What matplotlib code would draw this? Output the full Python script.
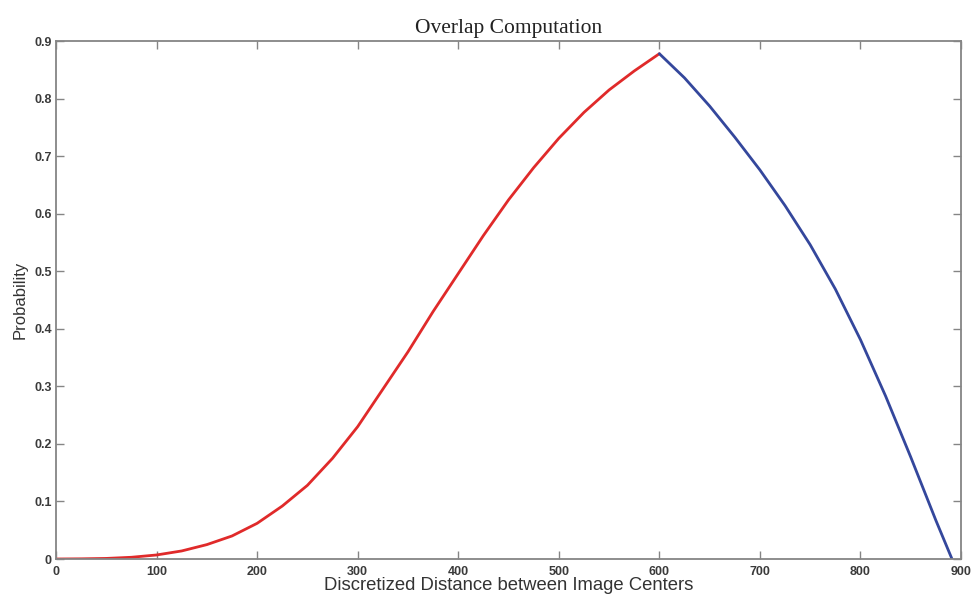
import matplotlib
matplotlib.use("Agg")
import matplotlib.pyplot as plt
import numpy as np

# overlap probability vs. distance between image centres
dist_rise = [0, 25, 50, 75, 100, 125, 150, 175, 200, 225, 250, 275, 300,
             325, 350, 375, 400, 425, 450, 475, 500, 525, 550, 575, 600]
prob_rise = [0.0, 0.0003, 0.001, 0.003, 0.007, 0.014, 0.025, 0.040, 0.062,
             0.092, 0.128, 0.175, 0.230, 0.295, 0.360, 0.430, 0.496, 0.562,
             0.624, 0.680, 0.731, 0.776, 0.815, 0.848, 0.878]

dist_fall = [600, 625, 650, 675, 700, 725, 750, 775, 800, 825, 850, 875, 891]
prob_fall = [0.878, 0.836, 0.787, 0.733, 0.676, 0.614, 0.546, 0.469, 0.381,
             0.283, 0.177, 0.067, 0.0]

xticks = np.arange(0, 901, 100)
yticks = np.arange(0, 0.91, 0.1)
ytick_labels = ["0"] + [f"{v:.1f}" for v in yticks[1:]]

fig = plt.figure(figsize=(9.74, 5.95), dpi=100)
ax = fig.add_axes([0.0575, 0.0605, 0.9292, 0.8705])

ax.plot(dist_rise, prob_rise, color="#e02a2a", lw=2.0, solid_capstyle="round",
        solid_joinstyle="round")
ax.plot(dist_fall, prob_fall, color="#34479c", lw=2.0, solid_capstyle="round",
        solid_joinstyle="round")

ax.set_xlim(0, 900)
ax.set_ylim(0, 0.9)
ax.set_xticks(xticks)
ax.set_xticklabels([str(t) for t in xticks])
ax.set_yticks(yticks)
ax.set_yticklabels(ytick_labels)

gray = "#858585"
for s in ax.spines.values():
    s.set_color(gray)
    s.set_linewidth(1.3)
ax.tick_params(direction="in", length=6, width=1.0, color=gray,
               top=True, right=True, labelsize=9, labelcolor="#3a3a3a")
ax.tick_params(axis="x", pad=5)
ax.tick_params(axis="y", pad=3)
for lab in ax.get_xticklabels() + ax.get_yticklabels():
    lab.set_family("Liberation Sans")
    lab.set_fontweight("bold")

ax.set_title("Overlap Computation", family="Liberation Serif", fontsize=15.5,
             color="#222222", pad=6)
ax.set_xlabel("Discretized Distance between Image Centers",
              family="Liberation Sans", fontsize=13.3, color="#333333", labelpad=-1)
ax.set_ylabel("Probability", family="Liberation Sans", fontsize=12,
              color="#333333", labelpad=5)

fig.savefig("out.png", dpi=100)
